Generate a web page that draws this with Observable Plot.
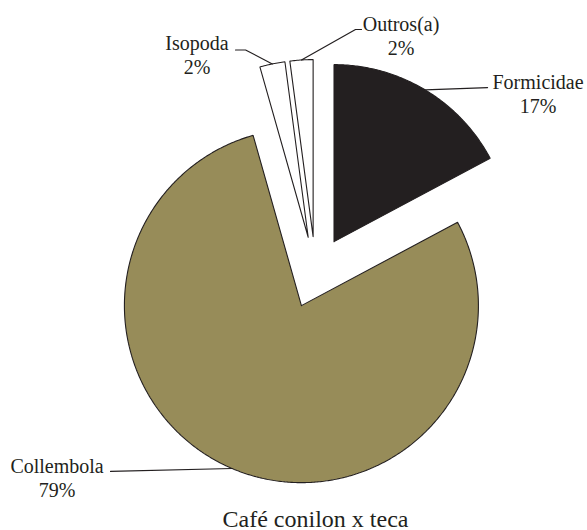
<!DOCTYPE html>
<html><head><meta charset="utf-8">
<script src="https://cdn.jsdelivr.net/npm/d3@7"></script>
<script src="https://cdn.jsdelivr.net/npm/@observablehq/plot@0.6"></script>
<style>html,body{margin:0;padding:0;background:#fff}</style>
</head><body><div id="chart"></div>
<script>
// ---- data ----
const categories = ["Formicidae", "Collembola", "Isopoda", "Outros(a)"];
const shares = [17.2, 78.4, 2.3, 2.1];
const percentLabels = ["17%", "79%", "2%", "2%"];
const fills = ["#231f20", "#978c59", "#ffffff", "#ffffff"];
const chartTitle = "Café conilon x teca";

// ---- layout (pie radius = 1 data unit) ----
const W = 587, H = 530, R = 177, CX = 315, CY = 272;
const explode = 36 / R;
const FONT = "Liberation Serif, Tinos, DejaVu Serif, Noto Serif, serif";
// leader elbows / ends, in pie-radius units relative to pie centre
const leaderPaths = [
  [[0.972, 1.045]],
  [[-1.158, -1.124]],
  [[-0.395, 1.257], [-0.452, 1.257]],
  [[0.226, 1.373], [0.260, 1.373]]
];
// pixel offset from leader end to label centre / last baseline
const labelOffsets = [[50.5, 25], [-53.5, 26], [-38.5, 23.5], [39.5, 26]];

// ---- build geometry from data ----
const total = d3.sum(shares);
let cum = 0;
const slicePts = [], leaderPts = [], labels = [];
categories.forEach((name, i) => {
  const a0 = cum / total * 2 * Math.PI;
  cum += shares[i];
  const a1 = cum / total * 2 * Math.PI;
  const mid = (a0 + a1) / 2;
  const ox = explode * Math.sin(mid), oy = explode * Math.cos(mid);
  slicePts.push({name, i, x: ox, y: oy});
  const n = Math.max(2, Math.ceil((a1 - a0) / (Math.PI / 360)));
  for (let k = 0; k <= n; ++k) {
    const t = a0 + (a1 - a0) * k / n;
    slicePts.push({name, i, x: ox + Math.sin(t), y: oy + Math.cos(t)});
  }
  slicePts.push({name, i, x: ox, y: oy});
  leaderPts.push({name, x: ox + Math.sin(mid), y: oy + Math.cos(mid)});
  leaderPaths[i].forEach(([x, y]) => leaderPts.push({name, x, y}));
  const [ex, ey] = leaderPaths[i][leaderPaths[i].length - 1];
  labels.push({
    text: name + "\n" + percentLabels[i],
    x: ex + labelOffsets[i][0] / R,
    y: ey - labelOffsets[i][1] / R
  });
});

const chart = Plot.plot({
  width: W, height: H,
  margin: 0,
  style: {background: "#fff", fontFamily: FONT},
  x: {domain: [-CX / R, (W - CX) / R], range: [0, W], axis: null},
  y: {domain: [-(H - CY) / R, CY / R], range: [H, 0], axis: null},
  color: {domain: categories, range: fills},
  marks: [
    Plot.line(slicePts, {x: "x", y: "y", z: "name", fill: "name", stroke: "#231f20", strokeWidth: 1.1, curve: "linear", strokeLinejoin: "miter"}),
    Plot.line(leaderPts, {x: "x", y: "y", z: "name", stroke: "#231f20", strokeWidth: 1.2}),
    Plot.text(labels, {x: "x", y: "y", text: "text", textAnchor: "middle", lineAnchor: "bottom", lineHeight: 1.2, fontSize: 20, fontFamily: FONT, fill: "#231f20"}),
    Plot.text([chartTitle], {x: () => 0, text: d => d, frameAnchor: "bottom", lineAnchor: "bottom", dy: -4, fontSize: 24, fontFamily: FONT, fill: "#231f20"})
  ]
});
document.getElementById("chart").appendChild(chart);
</script>
</body></html>
